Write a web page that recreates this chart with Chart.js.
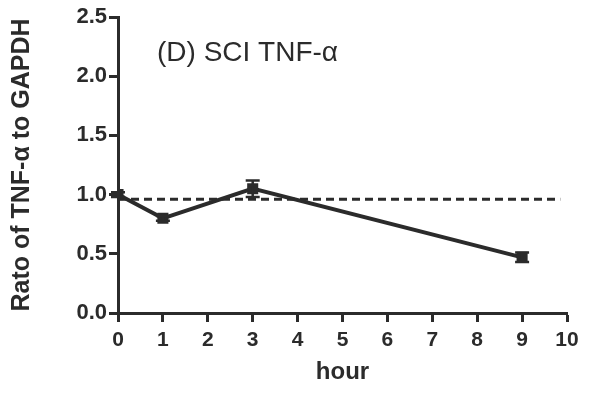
<!DOCTYPE html>
<html>
<head>
<meta charset="utf-8">
<script src="https://cdn.jsdelivr.net/npm/chart.js@4/dist/chart.umd.min.js"></script>
<style>
  html, body { margin: 0; padding: 0; background: #fff; }
  #wrap { width: 596px; height: 393px; }
</style>
</head>
<body>
<div id="wrap"><canvas id="myChart" width="596" height="393"></canvas></div>
<script>
let hours = [0, 1, 3, 9];
let ratio = [1.0, 0.80, 1.05, 0.47];
let ratioErr = [0.02, 0.02, 0.07, 0.04];
let refX = [0, 9.85];
let refY = [0.96, 0.96];
let yTicks = [0, 0.5, 1.0, 1.5, 2.0, 2.5];

const ink = '#2b2b2b';
const font = "'Liberation Sans', Arial, sans-serif";

const errorBars = {
    id: 'errorBars',
    afterDatasetsDraw(chart) {
        const ctx = chart.ctx;
        const xs = chart.scales.x, ys = chart.scales.y;
        ctx.save();
        ctx.strokeStyle = ink;
        ctx.lineWidth = 2.5;
        for (let i = 0; i < hours.length; i++) {
            let px = xs.getPixelForValue(hours[i]);
            let top = ys.getPixelForValue(ratio[i] + ratioErr[i]);
            let bot = ys.getPixelForValue(ratio[i] - ratioErr[i]);
            ctx.beginPath();
            ctx.moveTo(px, top); ctx.lineTo(px, bot);
            ctx.moveTo(px - 7, top); ctx.lineTo(px + 7, top);
            ctx.moveTo(px - 7, bot); ctx.lineTo(px + 7, bot);
            ctx.stroke();
        }
        // panel title inside the plot
        ctx.fillStyle = ink;
        ctx.font = '28px ' + font;
        ctx.textBaseline = 'middle';
        ctx.fillText('(D) SCI TNF-\u03b1', chart.chartArea.left + 39, chart.chartArea.top + 36);
        ctx.restore();
    }
};

const ctx = document.getElementById('myChart');
new Chart(ctx, {
    type: 'line',
    data: {
        datasets: [{
            data: hours.map((h, i) => ({x: h, y: ratio[i]})),
            borderColor: ink,
            backgroundColor: ink,
            borderWidth: 4,
            pointStyle: 'rect',
            pointRadius: 5,
            tension: 0
        }, {
            data: refX.map((h, i) => ({x: h, y: refY[i]})),
            borderColor: ink,
            borderWidth: 3,
            borderDash: [8, 5],
            pointRadius: 0,
            tension: 0
        }]
    },
    options: {
        responsive: false,
        animation: false,
        layout: { padding: { left: 0, right: 29, top: 17, bottom: 0 } },
        plugins: { legend: { display: false }, tooltip: { enabled: false } },
        scales: {
            x: {
                type: 'linear',
                min: 0, max: 10,
                afterFit: (s) => { s.height = 80; },
                border: { color: ink, width: 3 },
                grid: { drawOnChartArea: false, tickLength: 9, tickColor: ink, tickWidth: 3 },
                ticks: { stepSize: 1, color: ink, padding: 6, font: { family: font, size: 21, weight: 'bold' } },
                title: { display: true, text: 'hour', color: ink, padding: { top: 0, bottom: 6 },
                         font: { family: font, size: 24, weight: 'bold' } }
            },
            y: {
                min: 0, max: 2.5,
                afterFit: (s) => { s.width = 118; },
                afterBuildTicks: (s) => { s.ticks = yTicks.map(v => ({value: v})); },
                border: { color: ink, width: 3 },
                grid: { drawOnChartArea: false, tickLength: 9, tickColor: ink, tickWidth: 3 },
                ticks: { color: ink, padding: 2, callback: (v) => v.toFixed(1),
                         font: { family: font, size: 22, weight: 'bold' } },
                title: { display: true, text: 'Rato of TNF-\u03b1 to GAPDH', color: ink,
                         padding: { top: 7, bottom: 0 },
                         font: { family: font, size: 25, weight: 'bold' } }
            }
        }
    },
    plugins: [errorBars]
});
</script>
</body>
</html>
